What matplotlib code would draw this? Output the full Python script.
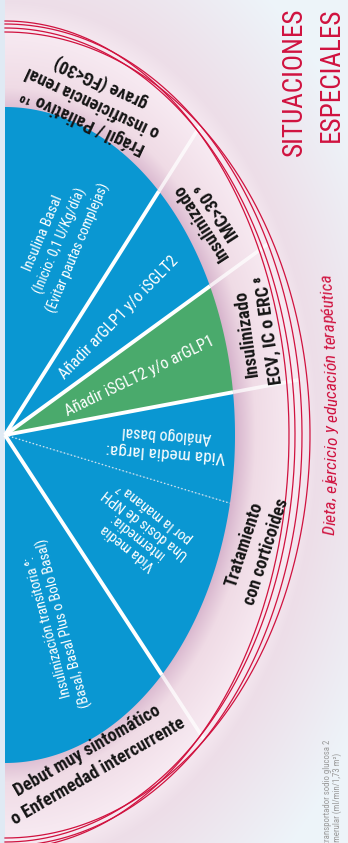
import numpy as np
import matplotlib
matplotlib.use("Agg")
import matplotlib.pyplot as plt
from matplotlib import font_manager as fm

# ---- data ----------------------------------------------------------------
# inner fan (degrees, 90 = top, -90 = bottom)
sector_edges = [90, 48, 27, 7.5, -12, -47, -90]
sector_kind = ["blue", "blue", "green", "blue", "blue", "blue"]
edge_dotted = [False, False, False, True, False]
sector_labels = [
    "Insulina Basal\n(Inicio: 0,1 U/Kg/día)\n(Evitar pautas complejas)",
    "Añadir arGLP1 y/o iSGLT2",
    "Añadir iSGLT2 y/o arGLP1",
    "Vida media larga:\nAnálogo basal",
    "Vida media\nintermedia:\nUna dosis de NPH\npor la mañana ⁷",
    "Insulinización transitoria ⁶:\n(Basal, Basal Plus o Bolo Basal)",
]
# outer ring
ring_edges = [90, 48, 27, 7.5, -47, -90]
ring_labels = [
    "Frágil / Paliativo ¹⁰\no insuficiencia renal\ngrave (FG<30)",
    "Insulinizado\nIMC>30 ⁹",
    "Insulinizado\nECV, IC o ERC ⁸",
    "Tratamiento\ncon corticoides",
    "Debut muy sintomático\no Enfermedad intercurrente",
]
title_lines = ["SITUACIONES", "ESPECIALES"]
arc_text = "Dieta, ejercicio y educación terapéutica"
notes = ["cotransportador sodio glucosa 2", "FG: Filtrado Glomerular (ml/min/1,73 m²)"]

# ---- fonts: use a narrow face when one is installed ------------------------
names = {f.name for f in fm.fontManager.ttflist}
STRETCH = "normal"
FAM = None
for cand in ["Liberation Sans Narrow", "Roboto Condensed", "Open Sans Condensed",
             "Noto Sans Condensed", "DejaVu Sans Condensed"]:
    if cand in names:
        FAM = cand
        break
if FAM is None:
    for cand in ["Noto Sans", "Roboto", "DejaVu Sans", "Open Sans"]:
        if any(f.name == cand and str(f.stretch) in ("condensed", "semi-condensed",
                                                      "extra-condensed")
               for f in fm.fontManager.ttflist):
            FAM, STRETCH = cand, "condensed"
            break
if FAM is None:
    FAM = "Liberation Sans"
FAMS = [FAM, "DejaVu Sans"]
plt.rcParams["font.family"] = FAMS
plt.rcParams["font.stretch"] = STRETCH

# ---- layout --------------------------------------------------------------
W, H = 348, 843
CX, CY, RX, RY = 5, 435, 230, 328           # fan ellipse (image is squeezed)
RED_ARCS = [(284, 414), (297, 411), (290, 407), (305, 403)]
BLUE, GREEN, RED = "#0a97d2", "#4aaa6c", "#d0123f"
sector_layout = [  # theta, r, rotation, sizes, line gap
    (68, 0.64, 67, [10.5, 10, 10], 19),
    (36, 0.61, 46, [11.5], 0),
    (17, 0.61, 26, [11.5], 0),
    (-2, 0.70, 176, [12.5, 11.5], 18),
    (-26, 0.66, 142, [10.5] * 4, 15),
    (-69, 0.62, 105, [10, 10], 16),
]
ring_layout = [
    (69.5, 1.085, 155, 13, 21),
    (36.9, 1.11, 123, 13, 20),
    (16, 1.145, 98, 13, 22),
    (-17.6, 1.142, 72, 13, 23),
    (-69, 1.065, 30, 13, 23),
]


def ell(theta, r, rx=RX, ry=RY):
    t = np.radians(theta)
    return CX + r * rx * np.cos(t), CY - r * ry * np.sin(t)


def block(ax, text, x, y, rot, sizes, gap, **kw):
    lines = text.split("\n")
    if len(sizes) == 1:
        sizes = sizes * len(lines)
    ux, uy = np.sin(np.radians(rot)), np.cos(np.radians(rot))   # "down" in data coords
    n = len(lines)
    for i, (ln, fs) in enumerate(zip(lines, sizes)):
        k = (i - (n - 1) / 2) * gap
        ax.text(x + k * ux, y + k * uy, ln, rotation=rot, rotation_mode="anchor",
                ha="center", va="center", fontsize=fs, **kw)


fig = plt.figure(figsize=(W / 100, H / 100), dpi=100)
ax = fig.add_axes([0, 0, 1, 1])
ax.set_xlim(0, W)
ax.set_ylim(H, 0)
ax.axis("off")

# background: pink ring fading to pale blue
yy, xx = np.mgrid[0:H, 0:W] + 0.5
s = np.sqrt(((xx - CX) / 295) ** 2 + ((yy - CY) / 409) ** 2)
knots = [0.78, 0.80, 0.85, 0.99, 1.06, 1.40]
cols = np.array([[0.84, 0.70, 0.80], [0.87, 0.75, 0.83], [0.94, 0.86, 0.90],
                 [0.97, 0.92, 0.95], [0.93, 0.87, 0.91], [0.93, 0.96, 0.98]])
img = np.stack([np.interp(s, knots, cols[:, c]) for c in range(3)], axis=-1)
img[xx < CX] = [0.88, 0.92, 0.96]
ax.imshow(img, extent=(0, W, H, 0), origin="upper", zorder=0, aspect="auto")

# fan sectors
for a, b, kind in zip(sector_edges[:-1], sector_edges[1:], sector_kind):
    th = np.linspace(a, b, 120)
    x, y = ell(th, 1.0)
    ax.fill(np.r_[CX, x], np.r_[CY, y], color=BLUE if kind == "blue" else GREEN,
            lw=0, zorder=2)


def ray_to_red(theta, rxr=297, ryr=409):
    t = np.radians(theta)
    dx, dy = RX * np.cos(t), RY * np.sin(t)
    return 1 / np.sqrt((dx / rxr) ** 2 + (dy / ryr) ** 2)


# dividers
for e, dotted in zip(sector_edges[1:-1], edge_dotted):
    x0, y0 = ell(e, 0.0)
    x1, y1 = ell(e, 1.0)
    if dotted:
        ax.plot([x0, x1], [y0, y1], color="white", lw=1, ls=(0, (1, 1.6)),
                alpha=0.75, zorder=3)
    else:
        ax.plot([x0, x1], [y0, y1], color="white", lw=2.8, zorder=3,
                solid_capstyle="butt")
for e in ring_edges[1:-1]:
    x1, y1 = ell(e, 1.0)
    x2, y2 = ell(e, ray_to_red(e))
    ax.plot([x1, x2], [y1, y2], color="white", lw=2.6, alpha=0.75, zorder=3,
            solid_capstyle="butt")

# red swirl lines
th = np.linspace(-90, 90, 400)
for rxr, ryr in RED_ARCS:
    x, y = ell(th, 1.0, rxr, ryr)
    ax.plot(x, y, color=RED, lw=0.9, zorder=4)

# labels
for txt, (t, r, rot, sizes, gap) in zip(sector_labels, sector_layout):
    x, y = ell(t, r)
    block(ax, txt, x, y, rot, sizes, gap, color="white", zorder=5)
for txt, (t, r, rot, fs, gap) in zip(ring_labels, ring_layout):
    x, y = ell(t, r)
    block(ax, txt, x, y, rot, [fs], gap, color="#151515", fontweight="bold", zorder=5)

# title
ax.text(294, 7, title_lines[0], rotation=90, rotation_mode="anchor", ha="right",
        va="center", fontsize=19.5, color=RED, zorder=5)
ax.text(331, 7, title_lines[1], rotation=90, rotation_mode="anchor", ha="right",
        va="center", fontsize=19.5, color=RED, zorder=5)

# curved red text along a flat arc
fig.canvas.draw()
rend = fig.canvas.get_renderer()
fp = fm.FontProperties(family=FAMS, style="italic", stretch=STRETCH, size=12.5)


def adv(txt):
    return (rend.get_text_width_height_descent(txt + "|", fp, ismath=False)[0]
            - rend.get_text_width_height_descent("|", fp, ismath=False)[0])


A_T, B_T = 332, 870
tg = np.linspace(-60, 60, 3000)
gx, gy = ell(tg, 1.0, A_T, B_T)
arc = np.r_[0, np.cumsum(np.hypot(np.diff(gx), np.diff(gy)))]
mid = np.interp(2.0, tg, arc)
L = adv(arc_text)
for i, ch in enumerate(arc_text):
    if ch == " ":
        continue
    c = mid - L / 2 + (adv(arc_text[:i]) + adv(arc_text[:i + 1])) / 2
    t = np.interp(c, arc, tg)
    x, y = ell(t, 1.0, A_T, B_T)
    tr = np.radians(t)
    ang = np.degrees(np.arctan2(B_T * np.cos(tr), -A_T * np.sin(tr)))
    ax.text(x, y, ch, rotation=ang, rotation_mode="anchor", ha="center",
            va="baseline", fontproperties=fp, color=RED, zorder=5)

# footnotes, cut by the page edge
ax.text(328, 740, notes[0], rotation=90, rotation_mode="anchor", ha="right",
        va="center", fontsize=6.3, color="#9a9a9a", zorder=5)
ax.text(337.5, 753, notes[1], rotation=90, rotation_mode="anchor", ha="right",
        va="center", fontsize=6.3, color="#9a9a9a", zorder=5)

fig.savefig("out.png", dpi=100)
